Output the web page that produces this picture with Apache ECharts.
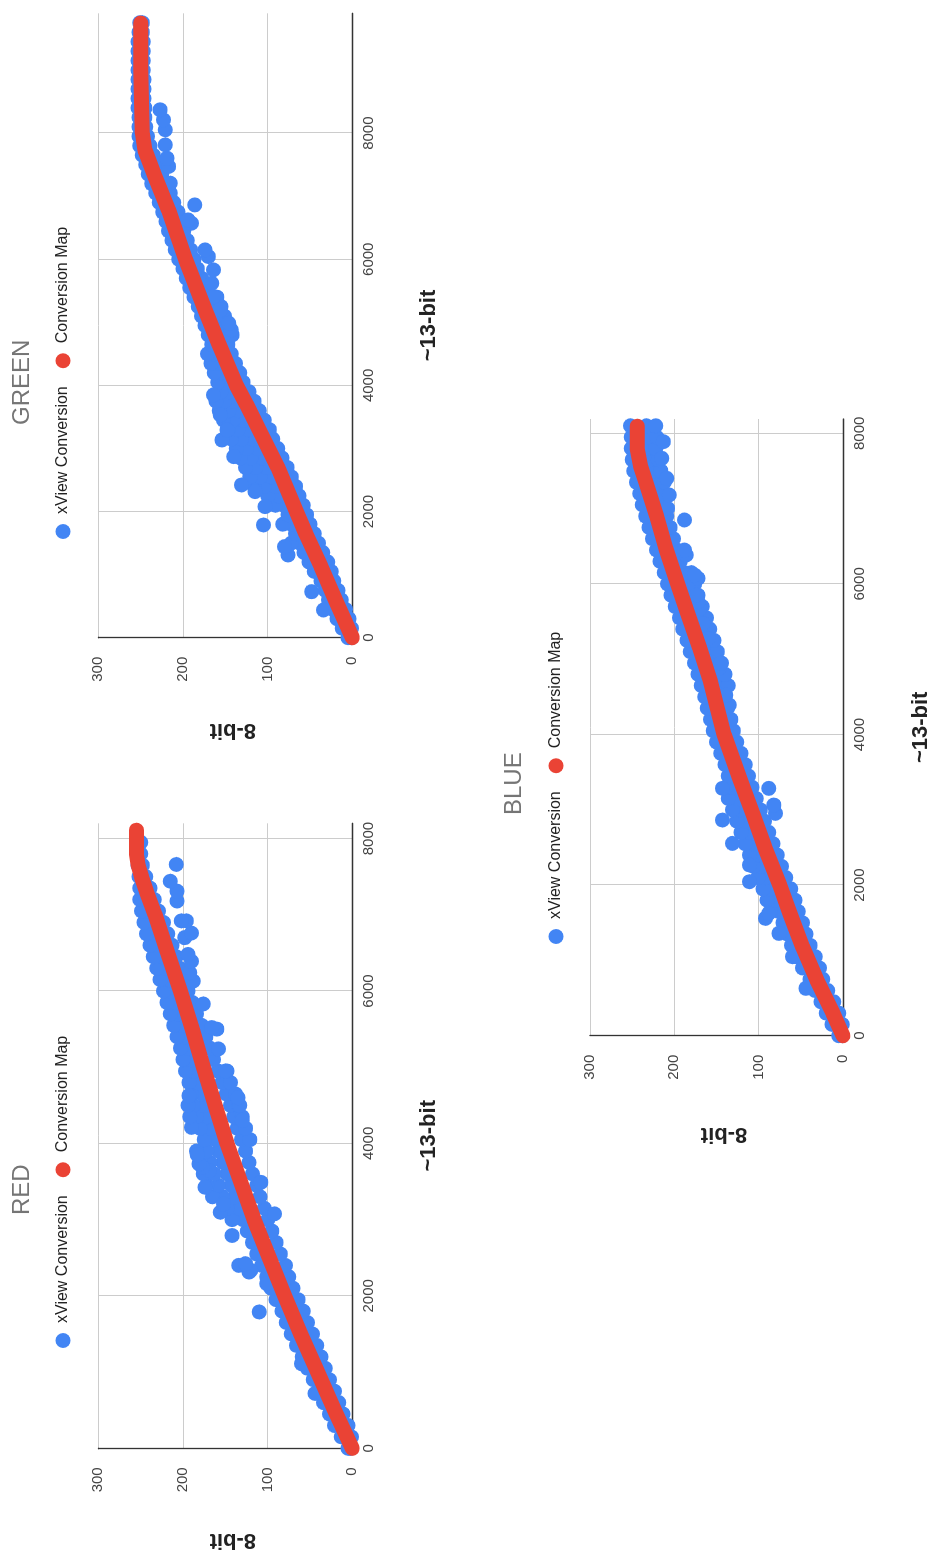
<!DOCTYPE html>
<html>
<head>
<meta charset="utf-8">
<script src="https://cdn.jsdelivr.net/npm/echarts@6/dist/echarts.min.js"></script>
<style>
  html, body { margin: 0; padding: 0; background: #fff; overflow: hidden; }
  #wrap { position: absolute; left: 0; top: 0; width: 1556px; height: 933px;
          transform-origin: 0 0; transform: translateY(1556px) rotate(-90deg); }
  #chart { width: 1556px; height: 933px; }
</style>
</head>
<body>
<div id="wrap"><div id="chart"></div></div>
<script>
// ---------------- DATA (13-bit value, 8-bit value) ----------------
const panelTitles = ['RED', 'GREEN', 'BLUE'];
const seriesNames = ['xView Conversion', 'Conversion Map'];
const xAxisTitle = '~13-bit';
const yAxisTitle = '8-bit';
const xTickStep = 2000;
const yTickStep = 100;
const yMax = 300;
const xMaxRed = 8200, xMaxGreen = 9900, xMaxBlue = 8190;

// Conversion Map curves
const redMap = [[0,0],[500,21],[1000,41],[1500,61],[2000,80],[2500,98],[3000,116],[3500,132],[4000,148],[4500,162],[5000,176],[5500,189],[6000,203],[6500,218],[7000,233],[7300,243],[7500,249],[7650,253],[7800,255],[8110,255]];
const greenMap = [[0,0],[600,20],[1130,37],[1650,55],[2000,66],[2700,88],[3240,108],[3700,125],[4000,137],[4670,158],[5200,174],[6000,197],[6780,217],[7310,233],[7735,245],[8000,248],[8500,249],[9000,250],[9745,250]];
const blueMap = [[0,0],[300,12],[740,31],[1180,48],[1625,63],[2000,75],[2510,93],[2950,107],[3400,122],[4000,141],[4700,157],[5150,170],[5600,184],[6000,196],[6470,210],[6900,221],[7360,234],[7560,240],[7800,244],[8095,244]];

// xView Conversion: dense band rows [13-bit, 8-bit values...]
const redBand = [
 [0,2,5],[150,1,13],[300,5,21],[450,11,27],[600,16,34],[750,21,40],[900,27,46],[1050,32,53],[1200,37,59],
 [1350,42,66],[1500,47,72],[1650,53,78],[1800,58,83],[1950,64,90],[2100,70,96],[2250,75,101],[2400,79,107],
 [2550,85,113],[2700,90,118],[2850,95,124],[3000,100,129,142],[3150,104,134,148],[3300,109,139,153,165],
 [3450,113,143,158,172],[3600,118,148,163,176],[3750,122,153,168,180],[3900,126,158,172,184],
 [4050,131,121,162,175],[4200,136,126,167,180],[4350,140,130,171,184],[4500,144,134,175,188],
 [4650,149,138,178,190],[4800,154,144,182,193],[4950,159,148,187,197],[5100,164,191,200],[5250,168,195,203],
 [5400,173,198,207],[5550,178,202,211],[5700,184,206,215],[5850,189,210,219],[6000,194,214,223],
 [6150,199,218,227],[6300,204,222,231],[6450,208,226,235],[6600,213,231,239],[6750,218,235,243],
 [6900,223,240,246],[7050,229,244,249],[7200,234,248,251],[7350,239,251],[7500,244,252],[7650,248,253],
 [7800,250,253],[7950,250,253]
];
const redOutliers = [
 [720,44],[1110,60],[1789,110],[2160,101],[2312,122],[2334,120],[2400,134],[2422,126],[2792,142],[3097,156],
 [3206,152],[3425,174],[3643,169],[3687,177],[3731,181],[3850,183],[4211,190],[4350,192],[4500,194],[4626,193],
 [3076,92],[3490,108],[4300,130],[4500,133],[4600,135],[4950,150],[5240,158],[5500,160],[5520,166],[5830,176],
 [6130,188],[6240,192],[6390,190],[6480,194],[6700,198],[6760,190],[6920,196],[6920,202],[7180,207],[7310,207],
 [7440,215],[7660,208]
];

const greenBand = [
 [0,1,5],[150,1,12],[300,4,18],[450,8,23],[600,13,28],[750,17,32],[900,22,37],[1050,25,45],[1200,29,51],
 [1350,35,57],[1500,40,62,72],[1650,45,67],[1800,50,72,82],[1950,54,76],[2100,58,81,91],[2250,63,87,100],
 [2400,67,91,104,116],[2550,72,96,109,121],[2700,77,101,114,126],[2850,83,107,120,132],[3000,88,112,125,137],
 [3150,94,118,131,143],[3300,98,122,135,147],[3450,104,128,141,152],[3600,110,134,146,157],[3750,116,140,151,161],
 [3900,122,145,155],[4050,129,151,159],[4200,133,155,163],[4350,138,160,167],[4500,143,164,171],[4650,147,166],
 [4800,151,142,170],[4950,155,146,174],[5100,160,151,178],[5250,164,155,182],[5400,169,160,187],[5550,174,192],
 [5700,178,196],[5850,183,200],[6000,187,205],[6150,191,209],[6300,195,213],[6450,199,217],[6600,202,220],
 [6750,206,224],[6900,211,228],[7050,215,232],[7200,220,237],[7350,225,241],[7500,230,244],[7650,235,248],
 [7800,239,251],[7950,242,252],[8100,244,252],[8250,245,252],[8400,245,253],[8550,246,253],[8700,246,253],
 [8850,246,253],[9000,247,253],[9150,247,253],[9300,247,253],[9450,247,253],[9600,248,252],[9750,248,251]
];
const greenOutliers = [
 [439,34],[730,48],[1311,76],[1443,80],[1787,105],[2078,103],[2316,115],[2421,131],[2871,140],[3135,154],
 [3294,148],[3532,156],[3849,164],
 [4880,143],[4986,146],[5197,156],[5408,164],[5620,166],[5832,164],[6043,170],[6149,174],[6572,190],[6625,194],
 [6862,186],[7207,215],[7471,217],[7603,219],[7814,221],[8052,221],[8211,223],[8370,227]
];

const blueBand = [
 [0,1,5],[150,1,13],[300,5,20],[450,11,26],[600,18,33],[750,24,39],[900,28,48],[1050,33,55],[1200,39,61],
 [1350,44,66],[1500,48,71],[1650,53,76,86],[1800,57,81,90],[1950,62,86,95],[2100,68,92,101],[2250,73,97,106],
 [2400,78,102,111],[2550,83,107,116],[2700,88,112,121],[2850,93,117,126],[3000,98,122,131],[3150,103,127,136],
 [3300,108,131,139],[3450,112,136],[3600,116,140],[3750,121,145],[3900,126,150],[4050,130,154],[4200,133,157],
 [4350,137,161],[4500,140,164],[4650,144,136,168],[4800,148,140,172],[4950,152,144,176],[5100,157,149,181],
 [5250,161,153,185],[5400,166,158,190],[5550,170,162,194],[5700,175,167,199],[5850,180,172,204],
 [6000,184,176,208],[6150,188,180,212],[6300,193,217],[6450,197,221],[6600,201,226],[6750,205,230],
 [6900,209,234],[7050,213,238],[7200,216,241],[7350,221,212,245],[7500,225,216,248],[7650,229,219,250],
 [7800,232,222,251],[7950,232,221,251],[8100,233,222,252]
];
const blueOutliers = [
 [629,44],[1049,60],[1359,76],[1558,92],[1625,88],[2045,111],[2267,111],[2554,131],[2864,143],[3285,143],
 [2953,80],[3063,82],[3285,88],
 [4392,135],[4524,139],[4879,147],[4945,145],[5277,160],[5476,166],[5675,170],[5764,172],[5852,174],
 [6074,172],[6118,176],[6384,186],[6450,188],[6849,188],[7004,208],[7181,206],[7402,209],[7668,215],[7889,213]
];

// ---------------- LAYOUT (unrotated landscape frame) ----------------
const FONT = "'Liberation Sans', Arial, sans-serif";
const C_BLUE = '#4285F4', C_RED = '#EA4335';

const panels = [
  { title: panelTitles[0], titleLeft: 341, titleTop: 10, legendLeft: 208, legendTop: 55,
    grid: { left: 107.7, top: 98.3, width: 625, height: 254 }, xMax: xMaxRed,
    map: redMap, band: redBand, out: redOutliers, yGap: 92, xGap: 77 },
  { title: panelTitles[1], titleLeft: 1131, titleTop: 10, legendLeft: 1017, legendTop: 55,
    grid: { left: 918.3, top: 98.3, width: 624.4, height: 254 }, xMax: xMaxGreen,
    map: greenMap, band: greenBand, out: greenOutliers, yGap: 92, xGap: 77 },
  { title: panelTitles[2], titleLeft: 741, titleTop: 502, legendLeft: 612, legendTop: 548,
    grid: { left: 520.3, top: 590, width: 616.7, height: 254.3 }, xMax: xMaxBlue,
    map: blueMap, band: blueBand, out: blueOutliers, yGap: 98, xGap: 78 }
];

function scatterPoints(rows, extra) {
  const pts = [];
  rows.forEach(r => { for (let i = 1; i < r.length; i++) pts.push([r[0], r[i]]); });
  extra.forEach(p => pts.push(p));
  return pts;
}
const plainNumber = v => String(v);

const option = {
  animation: false,
  backgroundColor: '#fff',
  title: panels.map(p => ({
    text: p.title, left: p.titleLeft, top: p.titleTop, padding: 0,
    textStyle: { fontFamily: FONT, fontSize: 24, fontWeight: 'normal', color: '#757575' }
  })),
  legend: panels.map(p => ({
    data: seriesNames, left: p.legendLeft, top: p.legendTop, padding: 0,
    icon: 'circle', itemWidth: 15, itemHeight: 15, itemGap: 18,
    selectedMode: false,
    textStyle: { fontFamily: FONT, fontSize: 16, color: '#222', padding: [0, 0, 0, 5] }
  })),
  grid: panels.map(p => Object.assign({ containLabel: false }, p.grid)),
  xAxis: panels.map((p, i) => ({
    type: 'value', gridIndex: i, min: 0, max: p.xMax, interval: xTickStep,
    name: xAxisTitle, nameLocation: 'middle', nameGap: p.xGap,
    nameTextStyle: { fontFamily: FONT, fontSize: 22, fontWeight: 'bold', color: '#222',
                     align: 'center', verticalAlign: 'middle' },
    axisLine: { show: true, lineStyle: { color: '#333', width: 1.3 } },
    axisTick: { show: false },
    axisLabel: { fontFamily: FONT, fontSize: 15, color: '#444', margin: 9, showMaxLabel: false,
                 formatter: plainNumber },
    splitLine: { show: true, showMinLine: false, showMaxLine: false, lineStyle: { color: '#ccc', width: 1 } }
  })),
  yAxis: panels.map((p, i) => ({
    type: 'value', gridIndex: i, min: 0, max: yMax, interval: yTickStep,
    name: yAxisTitle, nameLocation: 'middle', nameGap: p.yGap, nameRotate: 90,
    nameTextStyle: { fontFamily: FONT, fontSize: 22, fontWeight: 'bold', color: '#222',
                     align: 'center', verticalAlign: 'middle', padding: [0, 15, 0, 0] },
    axisLine: { show: true, lineStyle: { color: '#333', width: 1.3 } },
    axisTick: { show: false },
    axisLabel: { fontFamily: FONT, fontSize: 15, color: '#444', margin: 19, formatter: plainNumber },
    splitLine: { show: true, showMinLine: false, lineStyle: { color: '#ccc', width: 1 } }
  })),
  series: []
};

panels.forEach((p, i) => {
  option.series.push({
    name: seriesNames[0], type: 'scatter', xAxisIndex: i, yAxisIndex: i,
    data: scatterPoints(p.band, p.out), symbol: 'circle', symbolSize: 15,
    itemStyle: { color: C_BLUE, opacity: 1 }, clip: false, z: 2,
    emphasis: { disabled: true }, silent: true
  });
  option.series.push({
    name: seriesNames[1], type: 'line', xAxisIndex: i, yAxisIndex: i,
    data: p.map, showSymbol: false, symbol: 'none', smooth: false,
    itemStyle: { color: C_RED },
    lineStyle: { color: C_RED, width: 15, opacity: 1, cap: 'round', join: 'round' },
    clip: true, z: 3, emphasis: { disabled: true }, silent: true
  });
});

const chart = echarts.init(document.getElementById('chart'), null, { renderer: 'canvas' });
chart.setOption(option);
</script>
</body>
</html>
